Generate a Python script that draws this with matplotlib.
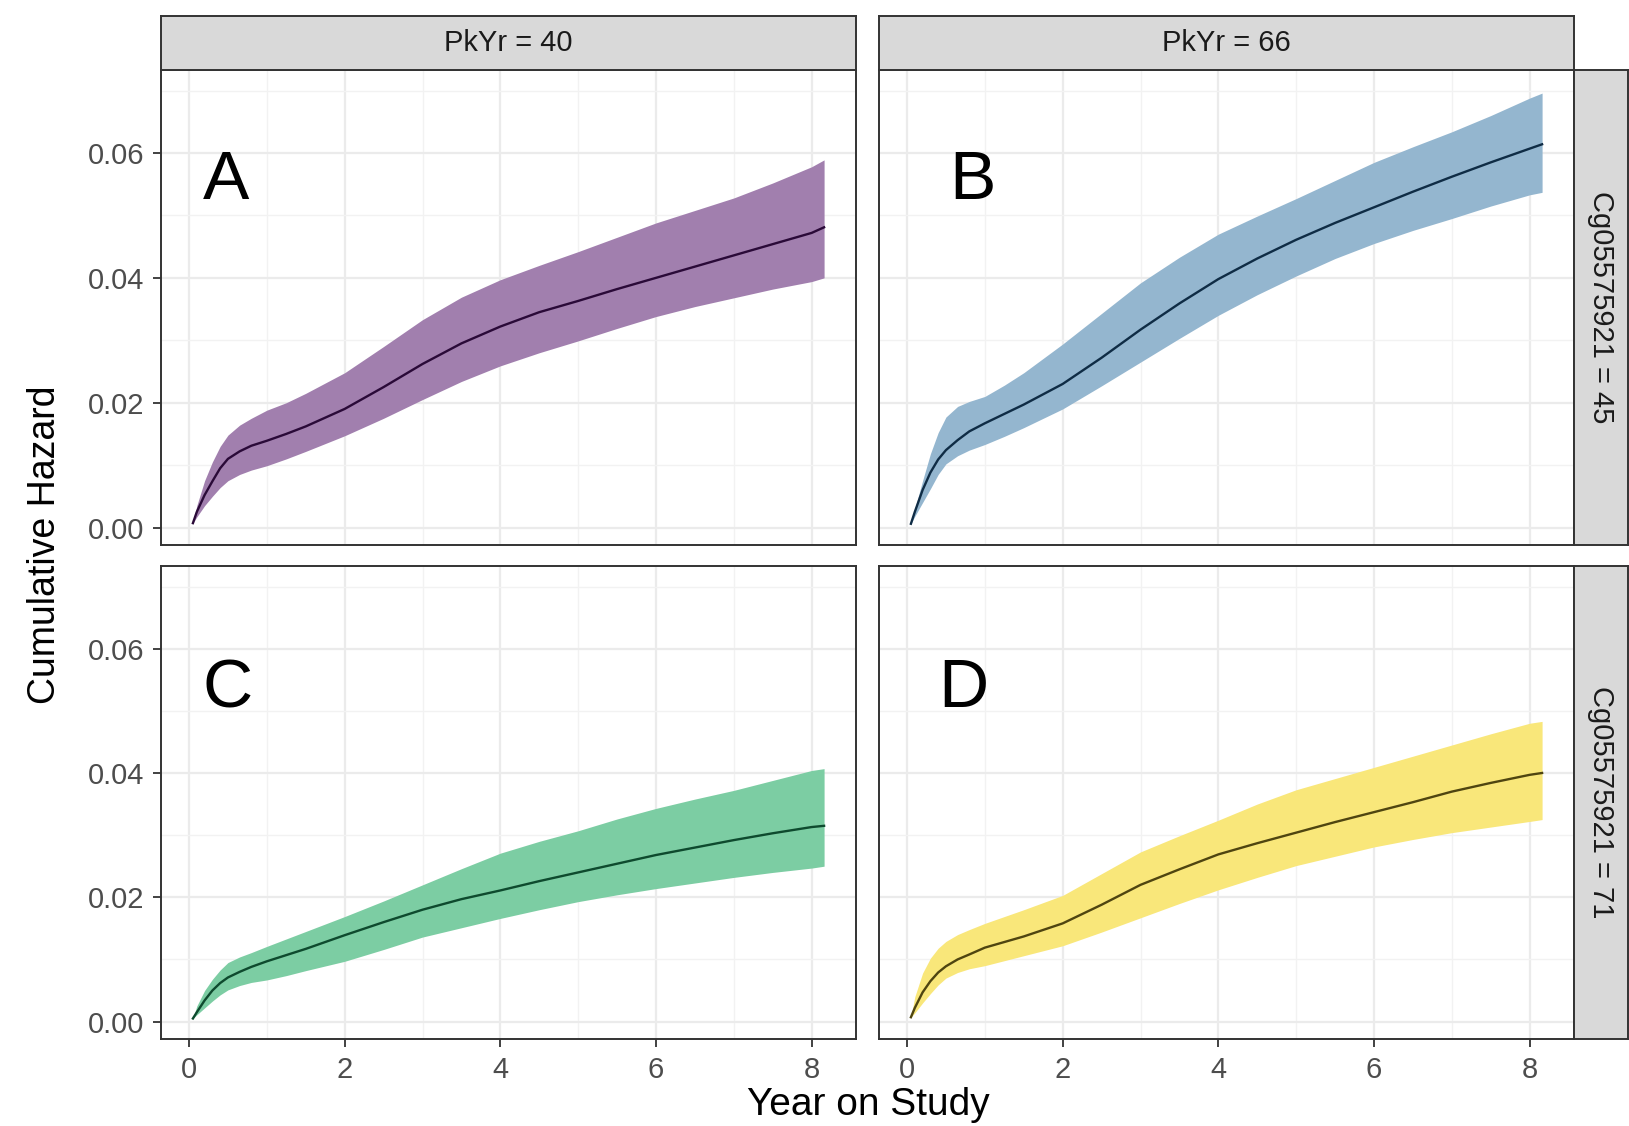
import matplotlib.pyplot as plt
import numpy as np

# time points (years)
years = [0.05, 0.1, 0.2, 0.3, 0.4, 0.5, 0.65, 0.8, 1, 1.25, 1.5, 2, 2.5, 3, 3.5, 4,
         4.5, 5, 5.5, 6, 6.5, 7, 7.5, 8, 8.16]

# panel A: PkYr = 40, Cg05575921 = 45
a_fit = [0.0007, 0.0025, 0.0052, 0.0074, 0.0095, 0.0110, 0.0122, 0.0131, 0.0139, 0.0150,
         0.0162, 0.019, 0.0225, 0.0262, 0.0295, 0.0322, 0.0345, 0.0363, 0.0382, 0.0400,
         0.0418, 0.0436, 0.0454, 0.0472, 0.0481]
a_hi = [0.0007, 0.0035, 0.0075, 0.0105, 0.0130, 0.0148, 0.0164, 0.0175, 0.0188, 0.0200,
        0.0215, 0.0248, 0.029, 0.0333, 0.0369, 0.0397, 0.042, 0.0442, 0.0465, 0.0488,
        0.0508, 0.0528, 0.0552, 0.0578, 0.0589]
a_lo = [0.0007, 0.0017, 0.0035, 0.0050, 0.0064, 0.0075, 0.0085, 0.0092, 0.0099, 0.011,
        0.0122, 0.0147, 0.0175, 0.0205, 0.0234, 0.0259, 0.028, 0.0299, 0.0319, 0.0338,
        0.0354, 0.0368, 0.0382, 0.0394, 0.0400]

# panel B: PkYr = 66, Cg05575921 = 45
b_fit = [0.0006, 0.0025, 0.006, 0.0088, 0.0109, 0.0124, 0.0140, 0.0154, 0.0167, 0.0182,
         0.0197, 0.023, 0.0272, 0.0317, 0.0359, 0.0398, 0.0431, 0.0461, 0.0488, 0.0513,
         0.0538, 0.0562, 0.0585, 0.0607, 0.0614]
b_hi = [0.0006, 0.003, 0.0075, 0.0118, 0.0152, 0.0177, 0.0194, 0.0202, 0.0210, 0.0228,
        0.0248, 0.0294, 0.0343, 0.0392, 0.0433, 0.047, 0.0499, 0.0527, 0.0556, 0.0585,
        0.061, 0.0634, 0.066, 0.0688, 0.0696]
b_lo = [0.0006, 0.0018, 0.0040, 0.0062, 0.0085, 0.0102, 0.0115, 0.0124, 0.0133, 0.0146,
        0.016, 0.019, 0.0227, 0.0265, 0.0303, 0.034, 0.0373, 0.0403, 0.0431, 0.0455,
        0.0476, 0.0495, 0.0515, 0.0533, 0.0537]

# panel C: PkYr = 40, Cg05575921 = 71
c_fit = [0.0005, 0.0015, 0.0034, 0.0050, 0.0062, 0.0071, 0.0080, 0.0088, 0.0097, 0.0107,
         0.0117, 0.0139, 0.0160, 0.0180, 0.0197, 0.0211, 0.0226, 0.024, 0.0254, 0.0268,
         0.028, 0.0292, 0.0303, 0.0313, 0.0315]
c_hi = [0.0005, 0.0025, 0.0050, 0.0068, 0.0083, 0.0095, 0.0104, 0.0111, 0.0121, 0.0133,
        0.0145, 0.0169, 0.0194, 0.022, 0.0246, 0.0271, 0.029, 0.0307, 0.0326, 0.0343,
        0.0358, 0.0372, 0.0388, 0.0404, 0.0407]
c_lo = [0.0005, 0.0011, 0.0022, 0.0033, 0.0043, 0.0051, 0.0058, 0.0063, 0.0067, 0.0074,
        0.0082, 0.0097, 0.0116, 0.0136, 0.0151, 0.0166, 0.018, 0.0193, 0.0204, 0.0214,
        0.0223, 0.0232, 0.024, 0.0247, 0.025]

# panel D: PkYr = 66, Cg05575921 = 71
d_fit = [0.0007, 0.0022, 0.0047, 0.0065, 0.0079, 0.0089, 0.0100, 0.0108, 0.0119, 0.0128,
         0.0137, 0.0158, 0.0188, 0.022, 0.0245, 0.0269, 0.0287, 0.0304, 0.0321, 0.0337,
         0.0353, 0.037, 0.0384, 0.0397, 0.040]
d_hi = [0.0007, 0.004, 0.0078, 0.0102, 0.0118, 0.0129, 0.0140, 0.0148, 0.0158, 0.0169,
        0.018, 0.0203, 0.0238, 0.0273, 0.0299, 0.0324, 0.035, 0.0373, 0.0391, 0.0409,
        0.0427, 0.0445, 0.0463, 0.048, 0.0483]
d_lo = [0.0007, 0.0014, 0.0030, 0.0045, 0.0059, 0.0070, 0.0079, 0.0085, 0.009, 0.0098,
        0.0106, 0.0122, 0.0144, 0.0167, 0.019, 0.0212, 0.0232, 0.0251, 0.0266, 0.0281,
        0.0293, 0.0304, 0.0313, 0.0322, 0.0325]

col_labels = ['PkYr = 40', 'PkYr = 66']
row_labels = ['Cg05575921 = 45', 'Cg05575921 = 71']
letters = ['A', 'B', 'C', 'D']
letter_xy = [(0.47, 0.0555), (0.84, 0.0555), (0.5, 0.0535), (0.73, 0.0535)]
fills = ['#a17fae', '#94b6cf', '#7ccda3', '#f9e77a']
lines = ['#2a0a38', '#0f2c45', '#0e4a2e', '#4f4510']

panels = [(a_fit, a_lo, a_hi), (b_fit, b_lo, b_hi),
          (c_fit, c_lo, c_hi), (d_fit, d_lo, d_hi)]

plt.rcParams['font.family'] = ['Liberation Sans', 'DejaVu Sans']

W, H = 1629, 1126
fig = plt.figure(figsize=(W / 100, H / 100), dpi=100)

lefts = [161, 879]
pw = 695
tops = [70, 566]
ph = [475, 473]

for i in range(4):
    r, c = divmod(i, 2)
    ax = fig.add_axes([lefts[c] / W, 1 - (tops[r] + ph[r]) / H, pw / W, ph[r] / H])
    fit, lo, hi = panels[i]
    ax.fill_between(years, lo, hi, color=fills[i], lw=0, zorder=2)
    ax.plot(years, fit, color=lines[i], lw=1.7, zorder=3, solid_joinstyle='round')
    ax.text(*letter_xy[i], letters[i], fontsize=50, ha='center', va='center',
            family=['Liberation Sans Narrow', 'Liberation Sans'], zorder=4)

    ax.set_xlim(-0.36, 8.57)
    ax.set_ylim(-0.0028, 0.0733)
    ax.set_xticks([0, 2, 4, 6, 8])
    ax.set_xticks([1, 3, 5, 7], minor=True)
    ax.set_yticks([0, 0.02, 0.04, 0.06])
    ax.set_yticks([0.01, 0.03, 0.05, 0.07], minor=True)
    ax.set_yticklabels(['0.00', '0.02', '0.04', '0.06'])
    ax.grid(which='major', color='#ebebeb', lw=1.6, zorder=0)
    ax.grid(which='minor', color='#f2f2f2', lw=1.0, zorder=0)
    ax.set_axisbelow(True)
    for s in ax.spines.values():
        s.set_color('#333333')
        s.set_linewidth(1.4)
    ax.tick_params(which='major', length=6, width=1.3, color='#333333',
                   labelsize=21, labelcolor='#4d4d4d', pad=6)
    ax.tick_params(which='minor', length=0)
    # facet grid: only outer axes carry ticks
    if c == 1:
        ax.tick_params(axis='y', which='both', left=False, labelleft=False)
    if r == 0:
        ax.tick_params(axis='x', which='both', bottom=False, labelbottom=False)

# top strips
for c in range(2):
    sax = fig.add_axes([lefts[c] / W, 1 - 70 / H, pw / W, 54 / H])
    sax.set_facecolor('#d9d9d9')
    sax.set_xticks([])
    sax.set_yticks([])
    for s in sax.spines.values():
        s.set_color('#333333')
        s.set_linewidth(1.4)
    sax.text(0.5, 0.5, col_labels[c], ha='center', va='center', fontsize=21,
             color='#1a1a1a', transform=sax.transAxes)

# right strips
for r in range(2):
    sax = fig.add_axes([1574 / W, 1 - (tops[r] + ph[r]) / H, 54 / W, ph[r] / H])
    sax.set_facecolor('#d9d9d9')
    sax.set_xticks([])
    sax.set_yticks([])
    for s in sax.spines.values():
        s.set_color('#333333')
        s.set_linewidth(1.4)
    sax.text(0.5, 0.5, row_labels[r], ha='center', va='center', fontsize=21,
             color='#1a1a1a', rotation=-90, transform=sax.transAxes)

fig.text(45 / W, 1 - 545 / H, 'Cumulative Hazard', rotation=90, ha='center',
         va='center', fontsize=27)
fig.text(868 / W, 1 - 1105 / H, 'Year on Study', ha='center', va='center', fontsize=28)

fig.savefig('out.png', dpi=100)
